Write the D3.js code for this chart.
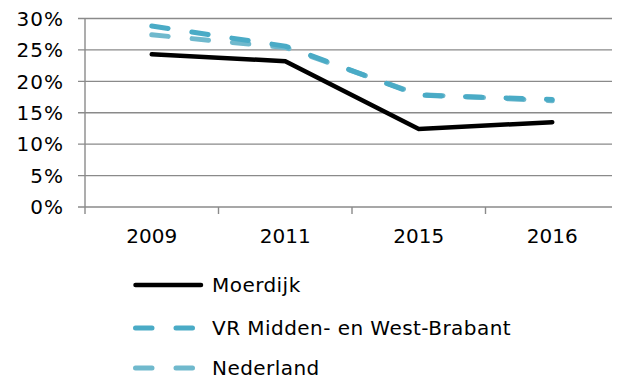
<!DOCTYPE html>
<html>
<head>
<meta charset="utf-8">
<script src="https://cdn.jsdelivr.net/npm/d3@7/dist/d3.min.js"></script>
<style>
  html, body { margin: 0; padding: 0; background: #fff; }
  svg { display: block; }
  text { font-family: "DejaVu Sans", Verdana, sans-serif; fill: #000; }
</style>
</head>
<body>
<svg id="chart" width="617" height="380"></svg>
<script>
// Survey years on the x axis
const years = ["2009", "2011", "2015", "2016"];

// Share per area (%)
const moerdijk = [24.3, 23.2, 12.4, 13.5];
const vrMiddenWestBrabant = [28.8, 25.6, 17.8, 17.1];
const nederland = [27.4, 25.4, 17.9, 16.9];

// Y axis ticks (%)
const yTicks = [0, 5, 10, 15, 20, 25, 30];

const seriesNames = ["Moerdijk", "VR Midden- en West-Brabant", "Nederland"];

const series = [
  { name: seriesNames[0], values: moerdijk, color: "#000000", width: 4.5, dash: null },
  { name: seriesNames[1], values: vrMiddenWestBrabant, color: "#4aabc6", width: 5, dash: "16.5,24" },
  { name: seriesNames[2], values: nederland, color: "#70b9cd", width: 5, dash: "16.5,24" }
];

const svg = d3.select("#chart");
const fontSize = 20;

const plot = { left: 85, top: 18.5, bottom: 207, right: 612, bandRight: 619 };

const x = d3.scaleBand().domain(years).range([plot.left, plot.bandRight]).padding(0);
const y = d3.scaleLinear().domain([0, 30]).range([plot.bottom, plot.top]);

const gridColor = "#8a8a8a";

// Horizontal gridlines
svg.append("g")
  .selectAll("line")
  .data(yTicks)
  .join("line")
  .attr("x1", plot.left - 7)
  .attr("x2", plot.right)
  .attr("y1", d => y(d))
  .attr("y2", d => y(d))
  .attr("stroke", gridColor)
  .attr("stroke-width", 1.4);

// Vertical axis line
svg.append("line")
  .attr("x1", plot.left).attr("x2", plot.left)
  .attr("y1", y(30)).attr("y2", plot.bottom + 7)
  .attr("stroke", gridColor).attr("stroke-width", 1.4);

// Category tick marks under the x axis
const boundaries = years.slice(1).map(d => x(d));
svg.append("g")
  .selectAll("line")
  .data(boundaries)
  .join("line")
  .attr("x1", d => d).attr("x2", d => d)
  .attr("y1", plot.bottom).attr("y2", plot.bottom + 7)
  .attr("stroke", gridColor).attr("stroke-width", 1.4);

// Y tick labels
svg.append("g")
  .selectAll("text")
  .data(yTicks)
  .join("text")
  .attr("x", 64)
  .attr("y", d => y(d))
  .attr("dy", "0.36em")
  .attr("text-anchor", "end")
  .style("font-size", fontSize + "px")
  .style("letter-spacing", "1px")
  .text(d => d + "%");

// X tick labels
svg.append("g")
  .selectAll("text")
  .data(years)
  .join("text")
  .attr("x", d => x(d) + x.bandwidth() / 2)
  .attr("y", 243)
  .attr("text-anchor", "middle")
  .style("font-size", fontSize + "px")
  .text(d => d);

// Series lines
const line = d3.line()
  .x((d, i) => x(years[i]) + x.bandwidth() / 2)
  .y(d => y(d));

// Draw lighter series first so darker ones sit on top
const drawOrder = [series[2], series[1], series[0]];
svg.append("g")
  .selectAll("path")
  .data(drawOrder)
  .join("path")
  .attr("d", d => line(d.values))
  .attr("fill", "none")
  .attr("stroke", d => d.color)
  .attr("stroke-width", d => d.width)
  .attr("stroke-linecap", "round")
  .attr("stroke-linejoin", d => d.dash ? "round" : "miter")
  .attr("stroke-dasharray", d => d.dash);

// Legend
const legendRows = [285, 328, 368];
const legend = svg.append("g")
  .selectAll("g")
  .data(series)
  .join("g")
  .attr("transform", (d, i) => `translate(0,${legendRows[i]})`);

legend.append("line")
  .attr("x1", 135.5)
  .attr("x2", d => d.dash ? 196 : 201)
  .attr("y1", 0).attr("y2", 0)
  .attr("stroke", d => d.color)
  .attr("stroke-width", d => d.width)
  .attr("stroke-linecap", "round")
  .attr("stroke-dasharray", d => d.dash);

legend.append("text")
  .attr("x", 212)
  .attr("y", 0)
  .attr("dy", "0.36em")
  .style("font-size", fontSize + "px")
  .style("letter-spacing", "0.45px")
  .text(d => d.name);
</script>
</body>
</html>
